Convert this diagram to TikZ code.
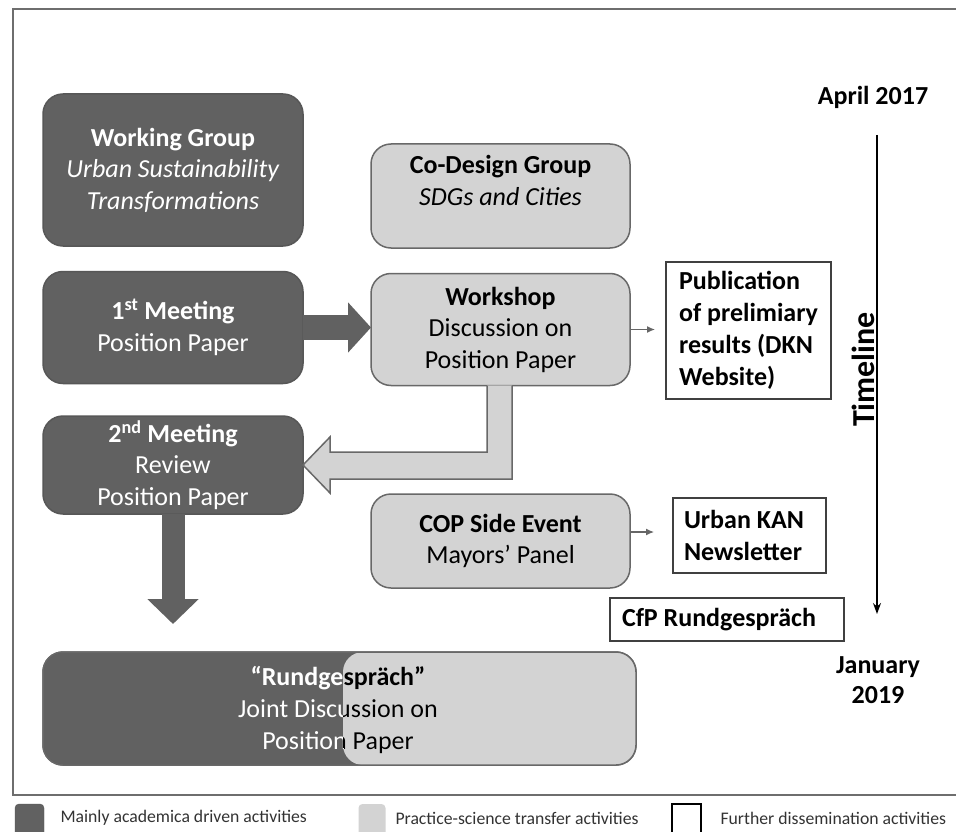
\documentclass[tikz,border=0pt]{standalone}
\usepackage{fontspec}
\setmainfont{Carlito}
\usetikzlibrary{arrows.meta,calc}
\definecolor{darkbox}{HTML}{616161}
\definecolor{darkline}{HTML}{575757}
\definecolor{lightbox}{HTML}{D3D3D3}
\definecolor{lightline}{HTML}{686868}
\definecolor{frameline}{HTML}{6E6E6E}
\begin{document}
\begin{tikzpicture}[x=1pt,y=-1pt,
  txt/.style={font=\fontsize{26}{31.5}\selectfont},
  dbox/.style={draw=darkline,fill=darkbox,line width=1.5pt,rounded corners=20pt,text=white,align=center,inner sep=0pt,outer sep=0pt,txt},
  lbox/.style={draw=lightline,fill=lightbox,line width=1.5pt,rounded corners=20pt,text=black,align=center,inner sep=0pt,outer sep=0pt,txt},
  wbox/.style={draw=black!75,fill=white,line width=1.3pt,text=black,align=flush left,inner sep=0pt,outer sep=0pt,font=\bfseries\fontsize{26}{32}\selectfont},
  bigarrow/.style={draw=darkbox,line width=#1},
  thinarrow/.style={draw=black!60,line width=1.2pt,-{Latex[length=8pt,width=7pt]}},
  hollow/.style={draw=lightline,fill=lightbox,line width=1.5pt,line join=miter},
  legtxt/.style={anchor=west,text=black!80,font=\fontsize{17.7}{19}\selectfont},
  datetxt/.style={align=center,text=black,font=\bfseries\fontsize{26}{30}\selectfont}
]
\useasboundingbox (0,0) rectangle (956,832);
\clip (0,0) rectangle (956,832);
\fill[white] (0,0) rectangle (956,832);

% frame
\draw[frameline,line width=2pt] (13,9) rectangle (975,795);

% boxes
\node[dbox,minimum width=260,minimum height=152] (wg) at (173,170)
  {\textbf{Working Group}\\\textit{Urban Sustainability}\\\textit{Transformations}};
\node[dbox,minimum width=260,minimum height=112] (m1) at (173,327.5)
  {\textbf{1\textsuperscript{st} Meeting}\\Position Paper};
\node[lbox,minimum width=259,minimum height=104] (cd) at (500.5,196)
  {\textbf{Co-Design Group}\\\textit{SDGs and Cities}\\\mbox{}};
\node[lbox,minimum width=259,minimum height=112] (ws) at (500.5,329.5)
  {\textbf{Workshop}\\Discussion on\\Position Paper};
\node[dbox,minimum width=260,minimum height=98] (m2) at (173,465)
  {\textbf{2\textsuperscript{nd} Meeting}\\Review\\Position Paper};
\node[lbox,minimum width=259,minimum height=94] (cop) at (500.5,541)
  {\textbf{COP Side Event}\\Mayors’ Panel};

\node[wbox,minimum width=165,minimum height=137] (pub) at (748.5,330.5)
  {Publication\\of prelimiary\\results (DKN\\Website)};
\node[wbox,minimum width=153,minimum height=75,text width=131] (kan) at (749.5,535.5)
  {Urban KAN\\Newsletter};
\node[wbox,minimum width=234,minimum height=43,text width=210] (cfp) at (727,619.5)
  {CfP Rundgespräch};

% Rundgespraech box
\node[dbox,minimum width=593,minimum height=113] (rg) at (339.5,708.5) {};
\node[fill=lightbox,rounded corners=20pt,minimum width=293,minimum height=113,inner sep=0pt,outer sep=0pt] (rgl) at (489.5,708.5) {};
\draw[lightline,line width=1.5pt,rounded corners=20pt] (rg.north west) rectangle (rg.south east);
\node[text=white,align=center,font=\fontsize{26}{32}\selectfont] (rgt) at (338,710)
  {\textbf{“Rundgespräch”}\\Joint Discussion on\\Position Paper};
\begin{scope}
  \clip[rounded corners=20pt] (rgl.north west) rectangle (rgl.south east);
  \node[text=black,align=center,font=\fontsize{26}{32}\selectfont] (rgtb) at (338,710)
    {\textbf{“Rundgespräch”}\\Joint Discussion on\\Position Paper};
\end{scope}

% thick dark arrows
\draw[bigarrow=25pt,-{Triangle[width=49pt,length=23pt]}] (m1.east) -- (m1.east -| ws.west);
\coordinate (dtip) at ($(m2.south)+(0,110)$);
\draw[bigarrow=23pt,-{Triangle[width=50pt,length=25pt]}] (m2.south) -- (dtip);

% hollow arrow workshop -> 2nd meeting
\coordinate (hA) at ($(ws.south)+(-13.5,0)$);
\coordinate (hB) at ($(ws.south)+(11.5,0)$);
\coordinate (hC) at ($(m2.east)+(27,14)$);
\coordinate (hD) at ($(m2.east)+(27,-13)$);
\fill[lightbox] (hA) -- (hB) -- (hB |- hC) -- (hC) -- ++(0,14) -- (m2.east) -- ($(hD)+(0,-15)$) -- (hD) -- (hA |- hD) -- cycle;
\draw[hollow] (hB) -- (hB |- hC) -- (hC) -- ++(0,14) -- (m2.east) -- ($(hD)+(0,-15)$) -- (hD) -- (hA |- hD) -- (hA);

% thin arrows
\coordinate (pa) at ($(ws.east)+(25,0)$);
\draw[thinarrow] (ws.east) -- (pa);
\coordinate (ka) at ($(cop.east)+(24,-9)$);
\draw[thinarrow] ($(cop.east)+(0,-9)$) -- (ka);

% timeline
\coordinate (tl1) at (877,135);
\coordinate (tl2) at (877,614);
\draw[black,line width=1.3pt,-{Stealth[length=11pt,width=8pt]}] (tl1) -- (tl2);
\node[rotate=90,anchor=base,text=black,inner sep=0pt] (tlt) at (874,369.5) {\fontsize{32}{32}\selectfont\bfseries Timeline};
\node[datetxt] (apr) at (873,97) {April 2017};
\node[datetxt] (jan) at (878,680) {January\\2019};

% legend
\node[fill=darkbox,draw=darkline,rounded corners=4pt,minimum width=29,minimum height=36,inner sep=0pt] (lg1) at (29.5,822) {};
\node[legtxt] (lt1) at (57,818) {Mainly academica driven activities};
\node[fill=lightbox,rounded corners=4pt,minimum width=27,minimum height=36,inner sep=0pt] (lg2) at (372,822) {};
\node[legtxt] (lt2) at (392,818) {Practice-science transfer activities};
\node[fill=white,draw=black,line width=1.5pt,minimum width=29,minimum height=36,inner sep=0pt] (lg3) at (686.5,822) {};
\node[legtxt] (lt3) at (717,818) {Further dissemination activities};
\end{tikzpicture}
\end{document}
